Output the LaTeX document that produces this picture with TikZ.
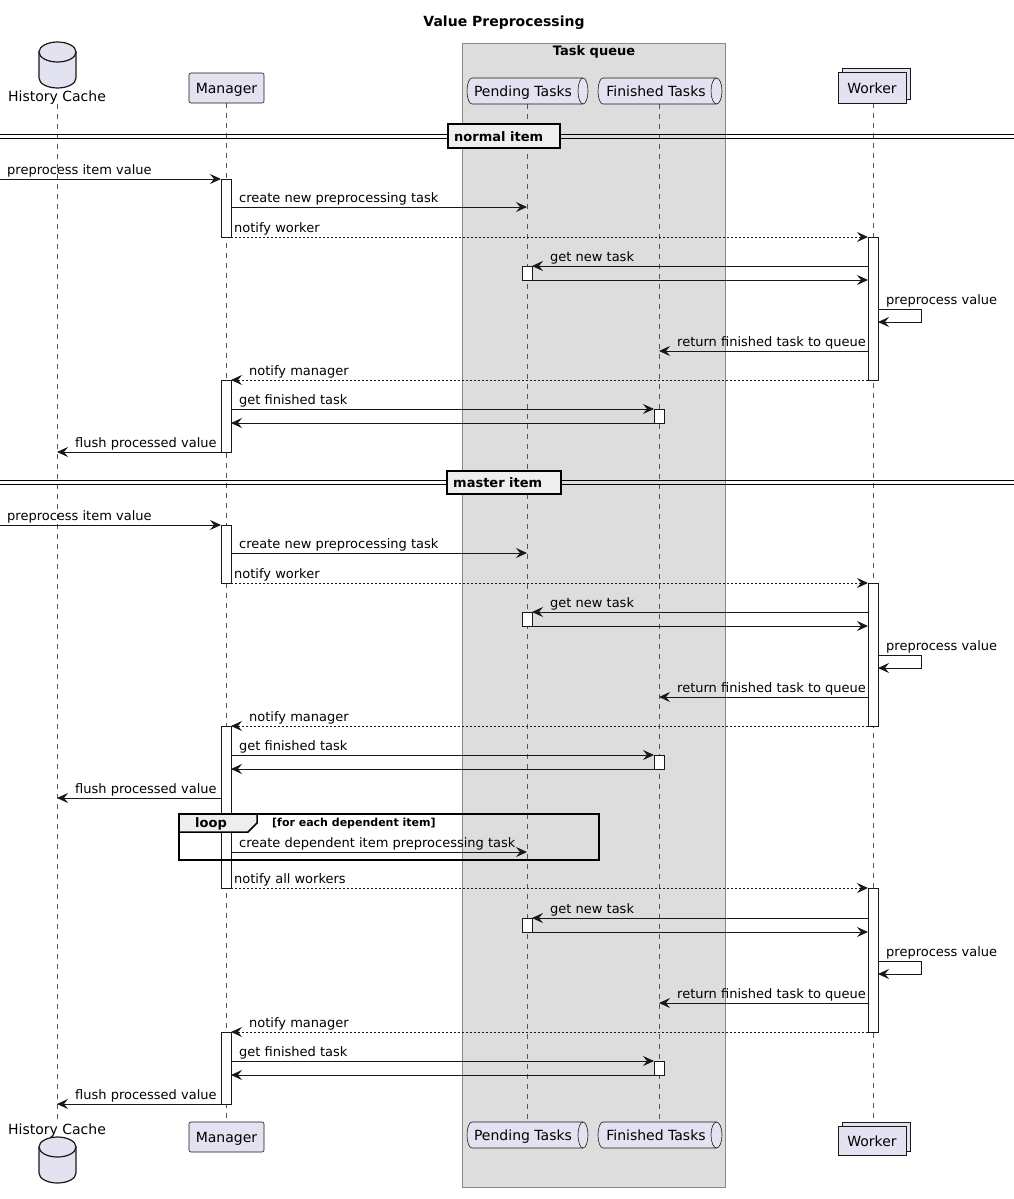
\documentclass[tikz,border=0pt]{standalone}
\usepackage{fontspec}
\setmainfont{DejaVu Sans}
\usetikzlibrary{arrows.meta}
\definecolor{partfill}{HTML}{E2E2F0}
\definecolor{boxfill}{HTML}{DDDDDD}
\definecolor{sepfill}{HTML}{EEEEEE}
\definecolor{lineclr}{HTML}{181818}
\definecolor{lifeclr}{HTML}{555555}
\definecolor{boxborder}{HTML}{888888}
\newcommand\msgfont{\fontsize{13}{15}\selectfont}
\newcommand\partfont{\fontsize{14}{16}\selectfont}
\begin{document}
\begin{tikzpicture}[x=1pt,y=-1pt,
  msg/.style={draw=lineclr, line width=1pt, -{Stealth[length=11pt,width=10pt,inset=4pt]}},
  ret/.style={msg, dash pattern=on 2pt off 2pt},
  lifeline/.style={draw=lifeclr, line width=0.6pt, dash pattern=on 5pt off 5pt},
  act/.style={draw=lineclr, fill=white, line width=1pt},
  lbl/.style={anchor=base west, inner sep=0pt, font=\msgfont},
  part/.style={draw=lineclr, line width=0.6pt, fill=partfill},
  ptext/.style={inner sep=0pt, font=\partfont, anchor=base},
  sepbox/.style={draw=black, line width=1.8pt, fill=sepfill, inner sep=0pt},
  septext/.style={anchor=base west, inner sep=0pt, font=\bfseries\msgfont}
]
\useasboundingbox (0,0) rectangle (1014,1199);

% title
\node[font=\bfseries\partfont, inner sep=0pt, anchor=base] (title) at (504,27) {Value Preprocessing};

% task queue box
\draw[fill=boxfill, draw=boxborder, line width=0.8pt] (462,43) rectangle (725,1187);
\node[font=\bfseries\msgfont, inner sep=0pt, anchor=base] (qtitle) at (594,55.5) {Task queue};

% lifelines
\draw[lifeline] (57,104) -- (57,1122);
\draw[lifeline] (226,103) -- (226,1122);
\draw[lifeline] (527,104) -- (527,1122);
\draw[lifeline] (659,104) -- (659,1122);
\draw[lifeline] (873,103) -- (873,1122);

% ---- participants top ----
% History Cache (database)
\filldraw[part, line width=1.2pt] (39,52) -- (39,78) arc[start angle=180, end angle=360, x radius=18.5pt, y radius=10pt] -- (76,52) -- cycle;
\filldraw[part, line width=1.2pt] (57.5,52) ellipse[x radius=18.5pt, y radius=10pt];
\node[ptext] (hcT) at (57,101.5) {History Cache};
% Manager
\node[part, rounded corners=2pt, minimum width=75pt, minimum height=30pt, inner sep=0pt] (mgrT) at (226.5,88) {};
\node[ptext] (mgrTt) at (226.5,93.5) {Manager};
% Pending Tasks
\filldraw[part] (472,78) -- (583,78) arc[start angle=90, end angle=-90, x radius=5pt, y radius=13pt] -- (472,104) arc[start angle=270, end angle=90, x radius=5pt, y radius=13pt] -- cycle;
\draw[part, fill=none] (583,78) arc[start angle=90, end angle=270, x radius=5pt, y radius=13pt];
\node[ptext] (pendT) at (523,96) {Pending Tasks};
% Finished Tasks
\filldraw[part] (603,78) -- (716.5,78) arc[start angle=90, end angle=-90, x radius=5.5pt, y radius=13pt] -- (603,104) arc[start angle=270, end angle=90, x radius=5pt, y radius=13pt] -- cycle;
\draw[part, fill=none] (716.5,78) arc[start angle=90, end angle=270, x radius=5.5pt, y radius=13pt];
\node[ptext] (finT) at (656,96) {Finished Tasks};
% Worker (collection)
\draw[part] (842,68) rectangle (910,99);
\node[part, minimum width=68pt, minimum height=31pt, inner sep=0pt] (wrkT) at (872,87.5) {};
\node[ptext] (wrkTt) at (872,93) {Worker};

% ---- participants bottom ----
\node[ptext] (hcB) at (57,1134) {History Cache};
\filldraw[part, line width=1.2pt] (39,1147) -- (39,1173) arc[start angle=180, end angle=360, x radius=18.5pt, y radius=10pt] -- (76,1147) -- cycle;
\filldraw[part, line width=1.2pt] (57.5,1147) ellipse[x radius=18.5pt, y radius=10pt];
\node[part, rounded corners=2pt, minimum width=75pt, minimum height=30pt, inner sep=0pt] (mgrB) at (226.5,1137) {};
\node[ptext] (mgrBt) at (226.5,1142) {Manager};
\filldraw[part] (472,1122) -- (583,1122) arc[start angle=90, end angle=-90, x radius=5pt, y radius=13pt] -- (472,1148) arc[start angle=270, end angle=90, x radius=5pt, y radius=13pt] -- cycle;
\draw[part, fill=none] (583,1122) arc[start angle=90, end angle=270, x radius=5pt, y radius=13pt];
\node[ptext] (pendB) at (523,1140) {Pending Tasks};
\filldraw[part] (603,1122) -- (716.5,1122) arc[start angle=90, end angle=-90, x radius=5.5pt, y radius=13pt] -- (603,1148) arc[start angle=270, end angle=90, x radius=5pt, y radius=13pt] -- cycle;
\draw[part, fill=none] (716.5,1122) arc[start angle=90, end angle=270, x radius=5.5pt, y radius=13pt];
\node[ptext] (finB) at (656,1140) {Finished Tasks};
\draw[part] (842,1122) rectangle (910,1151);
\node[part, minimum width=68pt, minimum height=29pt, inner sep=0pt] (wrkB) at (872,1140.5) {};
\node[ptext] (wrkBt) at (872,1146) {Worker};

% ---- separators ----
\draw[line width=0.9pt] (0,134) -- (1014,134);
\draw[line width=0.9pt] (0,138) -- (1014,138);
\draw[sepbox] (448,124) rectangle (560,148);
\node[septext] (sep1) at (454,141) {normal item};
\draw[line width=0.9pt] (0,480.5) -- (1014,480.5);
\draw[line width=0.9pt] (0,484.5) -- (1014,484.5);
\draw[sepbox] (447,471) rectangle (561,494);
\node[septext] (sep2) at (453,487) {master item};

% ---- activations ----
\draw[act] (221,179) rectangle (231,237);
\draw[act] (221,380) rectangle (231,452);
\draw[act] (221,525) rectangle (231,583);
\draw[act] (221,726) rectangle (231,888);
\draw[act] (221,1032) rectangle (231,1104);
\draw[act] (868,237) rectangle (878,380);
\draw[act] (868,583) rectangle (878,726);
\draw[act] (868,888) rectangle (878,1032);
\draw[act] (522,266) rectangle (532,280);
\draw[act] (522,612) rectangle (532,626);
\draw[act] (522,918) rectangle (532,932);
\draw[act] (654,409) rectangle (664,423);
\draw[act] (654,755) rectangle (664,769);
\draw[act] (654,1061) rectangle (664,1075);

% ---- repeated worker cycle ----
\newcommand\workcycle[1]{%
  \draw[msg] (868,266+#1) -- (532,266+#1);
  \node[lbl] at (550,261.5+#1) {get new task};
  \draw[msg] (532,280+#1) -- (868,280+#1);
  \draw[msg] (878,309+#1) -- (921,309+#1) -- (921,322+#1) -- (878,322+#1);
  \node[lbl] at (886,304.5+#1) {preprocess value};
  \draw[msg] (868,351+#1) -- (659,351+#1);
  \node[lbl] at (677,346.5+#1) {return finished task to queue};
  \draw[ret] (868,380+#1) -- (231,380+#1);
  \node[lbl] at (249,375.5+#1) {notify manager};
  \draw[msg] (231,409+#1) -- (654,409+#1);
  \node[lbl] at (239,404.5+#1) {get finished task};
  \draw[msg] (654,423+#1) -- (231,423+#1);
  \draw[msg] (221,452+#1) -- (57,452+#1);
  \node[lbl] at (75,447.5+#1) {flush processed value};
}
\newcommand\startcycle[1]{%
  \draw[msg] (0,179+#1) -- (221,179+#1);
  \node[lbl] at (7,174.5+#1) {preprocess item value};
  \draw[msg] (231,207+#1) -- (527,207+#1);
  \node[lbl] at (239,202.5+#1) {create new preprocessing task};
  \draw[ret] (231,237+#1) -- (868,237+#1);
  \node[lbl] at (234,232.5+#1) {notify worker};
}

\startcycle{0}
\workcycle{0}
\startcycle{346}
\workcycle{346}

% loop
\draw[line width=1.5pt] (179,814) rectangle (599,860);
\filldraw[draw=black, fill=sepfill, line width=1.5pt] (179,814) -- (257,814) -- (257,823) -- (248,832) -- (179,832) -- cycle;
\node[septext] (looplbl) at (195,827) {loop};
\node[anchor=base west, inner sep=0pt, font=\bfseries\fontsize{11}{13}\selectfont] (loopcond) at (272,826) {[for each dependent item]};
\draw[msg] (231,852) -- (527,852);
\node[lbl] at (239,847.5) {create dependent item preprocessing task};

\draw[ret] (231,888) -- (868,888);
\node[lbl] at (234,883.5) {notify all workers};

\workcycle{652}

\end{tikzpicture}
\end{document}
